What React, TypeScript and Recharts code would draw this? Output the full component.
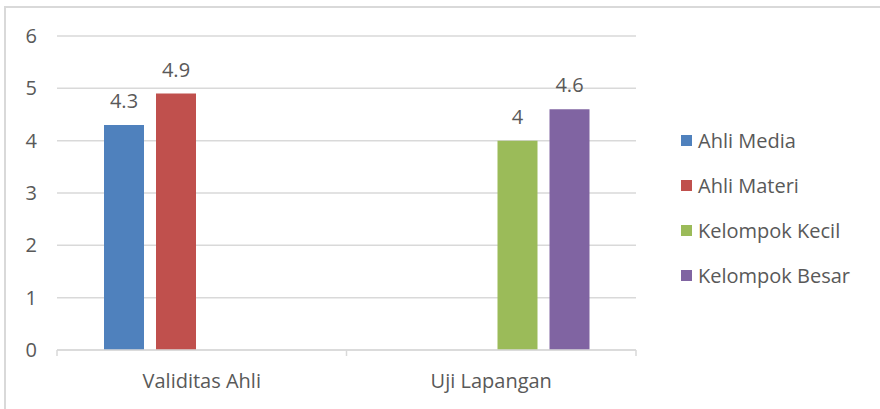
import React from "react";
import {
  BarChart,
  Bar,
  XAxis,
  YAxis,
  CartesianGrid,
  LabelList,
} from "recharts";

const categories = ["Validitas Ahli", "Uji Lapangan"];
const ahliMedia = [4.3, null];
const ahliMateri = [4.9, null];
const kelompokKecil = [null, 4];
const kelompokBesar = [null, 4.6];
const yTicks = [0, 1, 2, 3, 4, 5, 6];

const series = [
  { key: "ahliMedia", name: "Ahli Media", values: ahliMedia, color: "#4f81bd" },
  { key: "ahliMateri", name: "Ahli Materi", values: ahliMateri, color: "#c0504d" },
  { key: "kelompokKecil", name: "Kelompok Kecil", values: kelompokKecil, color: "#9bbb59" },
  { key: "kelompokBesar", name: "Kelompok Besar", values: kelompokBesar, color: "#8064a2" },
];

const data = categories.map((name, i) => {
  const row: Record<string, any> = { name };
  series.forEach((s) => (row[s.key] = s.values[i]));
  return row;
});

const font = "'Open Sans', sans-serif";
const fontSize = 20;
const textColor = "#595959";
const gridColor = "#d9d9d9";

// category tick: label in the middle, small tick marks on the band edges
function CategoryTick(props: any) {
  const { x, y, payload, index } = props;
  const half = payload?.offset ?? 0;
  const axisY = y - 22;
  return (
    <g>
      <line x1={x - half} x2={x - half} y1={axisY} y2={axisY + 6} stroke={gridColor} strokeWidth={1.5} />
      {index === categories.length - 1 && (
        <line x1={x + half} x2={x + half} y1={axisY} y2={axisY + 6} stroke={gridColor} strokeWidth={1.5} />
      )}
      <text x={x} y={y} dy="0.78em" textAnchor="middle" fill={textColor} fontSize={fontSize} fontFamily={font}>
        {payload.value}
      </text>
    </g>
  );
}

export default function App() {
  return (
    <div style={{ position: "absolute", left: 0, top: 0, width: 880, height: 409, background: "#fff", overflow: "hidden", fontFamily: font }}>
      <div
        style={{
          position: "absolute",
          left: 4,
          top: 6,
          width: 900,
          height: 430,
          border: `2px solid ${gridColor}`,
        }}
      />
      <div style={{ position: "absolute", left: 0, top: 0 }}>
        <BarChart
          width={880}
          height={409}
          data={data}
          barSize={40}
          barGap={12}
          margin={{ top: 36, right: 244, left: 0, bottom: 0 }}
        >
          <CartesianGrid horizontal vertical={false} stroke={gridColor} strokeWidth={1.5} />
          <XAxis
            dataKey="name"
            height={59}
            axisLine={{ stroke: gridColor, strokeWidth: 1.5 }}
            tickLine={false}
            tickSize={0}
            tickMargin={22}
            tick={<CategoryTick />}
          />
          <YAxis
            width={57}
            domain={[0, 6]}
            ticks={yTicks}
            axisLine={false}
            tickLine={false}
            tickSize={0}
            tickMargin={20}
            tick={{ fill: textColor, fontSize, fontFamily: font }}
          />
          {series.map((s) => (
            <Bar key={s.key} dataKey={s.key} name={s.name} fill={s.color} isAnimationActive={false}>
              <LabelList
                dataKey={s.key}
                position="top"
                offset={17}
                fill={textColor}
                fontSize={fontSize}
                fontFamily={font}
              />
            </Bar>
          ))}
        </BarChart>
      </div>
      <div style={{ position: "absolute", left: 681, top: 118 }}>
        {series.map((s) => (
          <div key={s.key} style={{ display: "flex", alignItems: "center", height: 45, color: textColor, fontSize }}>
            <span style={{ display: "inline-block", width: 11, height: 11, background: s.color, marginRight: 6 }} />
            <span>{s.name}</span>
          </div>
        ))}
      </div>
    </div>
  );
}
